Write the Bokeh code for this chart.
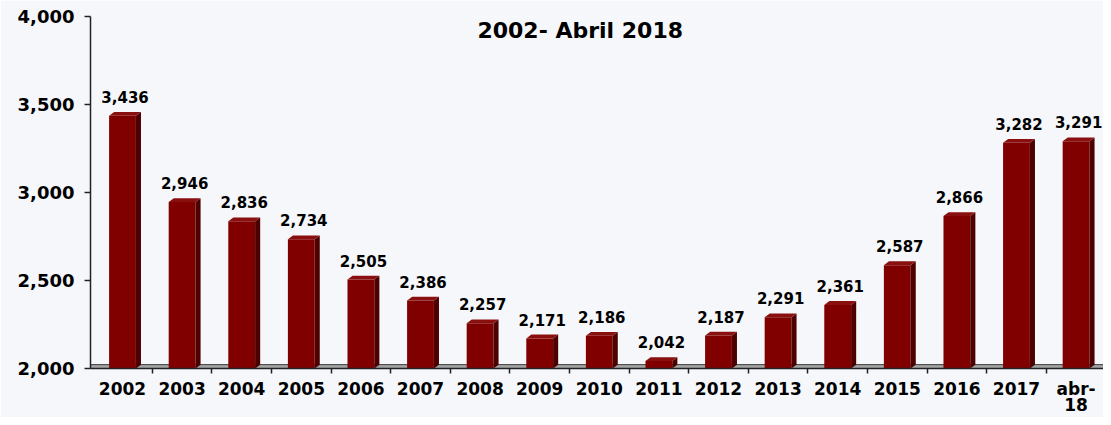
import numpy as np
from bokeh.plotting import figure
from bokeh.models import Range1d, FixedTicker, NumeralTickFormatter, ColumnDataSource, Label
from bokeh.core.properties import value
from bokeh.embed import file_html
from bokeh.resources import INLINE

# ---- data ----
categories = ["2002", "2003", "2004", "2005", "2006", "2007", "2008", "2009", "2010",
              "2011", "2012", "2013", "2014", "2015", "2016", "2017", "abr-18"]
values = [3436, 2946, 2836, 2734, 2505, 2386, 2257, 2171, 2186,
          2042, 2187, 2291, 2361, 2587, 2866, 3282, 3291]
tick_labels = ["2002", "2003", "2004", "2005", "2006", "2007", "2008", "2009", "2010",
               "2011", "2012", "2013", "2014", "2015", "2016", "2017", "abr-\n18"]
value_labels = ["{:,}".format(v) for v in values]
y_ticks = [2000, 2500, 3000, 3500, 4000]
title_text = "2002- Abril 2018"

# ---- style ----
BG = "#f5f7fb"
FRONT = "#800000"
SIDE = "#4c0000"
TOP = "#8a1010"
FONT = "DejaVu Sans"

n = len(categories)
x = np.arange(n, dtype=float)
v = np.array(values, dtype=float)
x0, x1 = -0.537, 16.46
y0, y1 = 2000, 4000
w = 0.45     # front face width (category units)
dx = 0.085   # depth offset x
dy = 22      # depth offset y (data units)

p = figure(width=1103, height=417, output_backend="svg", toolbar_location=None,
           x_range=Range1d(x0, x1), y_range=Range1d(y0, y1),
           min_border_left=90, min_border_right=0, min_border_top=16, min_border_bottom=40,
           background_fill_color=BG, border_fill_color=BG, outline_line_color=None)
p.grid.visible = False

# floor
p.quad(left=[x0], right=[x1], bottom=[y0], top=[y0 + dy],
       fill_color="#a4a4a4", line_color="#3a3a3a", line_width=1)

# bars: front, side, top faces
src = ColumnDataSource(dict(x=x, top=v, cat=categories))
p.vbar(x="x", top="top", bottom=y0, width=w, source=src,
       fill_color=FRONT, line_color=None)

side_xs = [[xi + w / 2, xi + w / 2 + dx, xi + w / 2 + dx, xi + w / 2] for xi in x]
side_ys = [[y0, y0 + dy, vi + dy, vi] for vi in v]
p.patches(side_xs, side_ys, fill_color=SIDE, line_color=None)

top_xs = [[xi - w / 2, xi - w / 2 + dx, xi + w / 2 + dx, xi + w / 2] for xi in x]
top_ys = [[vi, vi + dy, vi + dy, vi] for vi in v]
p.patches(top_xs, top_ys, fill_color=TOP, line_color=None)

# value labels
lab_src = ColumnDataSource(dict(x=x + dx / 2, y=v + dy, t=value_labels))
p.text(x="x", y="y", text="t", source=lab_src, y_offset=-9,
       text_align="center", text_baseline="bottom",
       text_font=value(FONT), text_font_style="bold",
       text_font_size="15px", text_color="black")

# title
p.add_layout(Label(x=7.68, y=y1, text=title_text, y_offset=-1,
                   text_align="center", text_baseline="top",
                   text_font=FONT, text_font_style="bold",
                   text_font_size="22px", text_color="black"))

# x axis
xa = p.xaxis[0]
xa.ticker = FixedTicker(ticks=list(x), minor_ticks=list(x + 0.5))
xa.major_label_overrides = {float(xi): lab for xi, lab in zip(x, tick_labels)}
xa.major_tick_line_color = None
xa.major_tick_out = 0
xa.major_tick_in = 0
xa.minor_tick_in = 0
xa.minor_tick_out = 5
xa.minor_tick_line_color = "#222222"
xa.minor_tick_line_width = 1.5
xa.axis_line_color = "#222222"
xa.axis_line_width = 1.5
xa.major_label_standoff = 5
xa.major_label_text_font = FONT
xa.major_label_text_font_style = "bold"
xa.major_label_text_font_size = "17px"
xa.major_label_text_color = "black"
xa.major_label_text_line_height = 0.82

# y axis
ya = p.yaxis[0]
ya.ticker = FixedTicker(ticks=y_ticks)
ya.formatter = NumeralTickFormatter(format="0,0")
ya.major_tick_in = 0
ya.major_tick_out = 6
ya.major_tick_line_color = "#222222"
ya.major_tick_line_width = 1.5
ya.minor_tick_line_color = None
ya.axis_line_color = "#222222"
ya.axis_line_width = 1.5
ya.major_label_standoff = 10
ya.major_label_text_font = FONT
ya.major_label_text_font_style = "bold"
ya.major_label_text_font_size = "18px"
ya.major_label_text_color = "black"

open("out.html", "w").write(file_html(p, INLINE))
